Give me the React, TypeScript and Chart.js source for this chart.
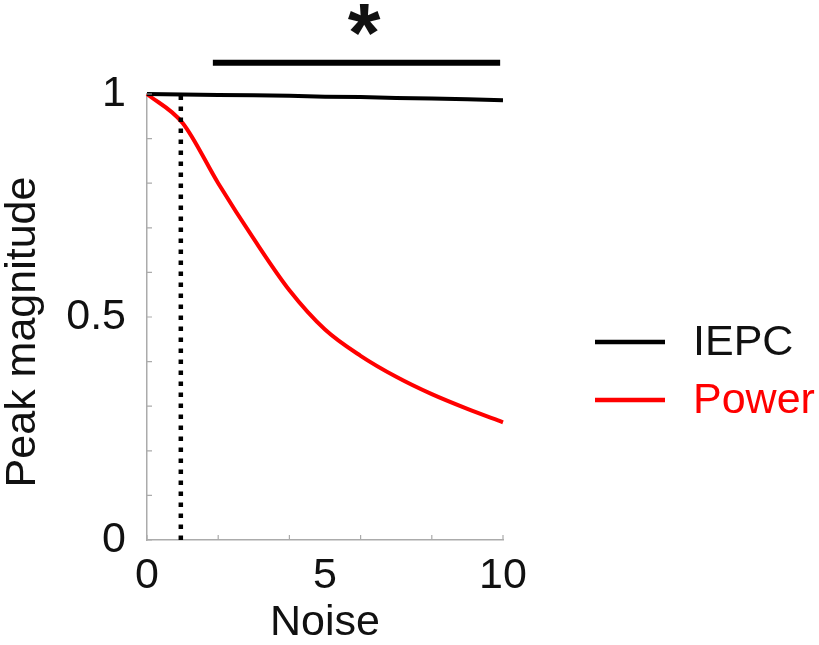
import { useEffect, useRef } from "react";
import { Chart, registerables } from "chart.js";

Chart.register(...registerables);

// ---- data ----
const noiseLevels = [0, 1, 2, 3, 4, 5, 6, 7, 8, 9, 10];
const iepcValues = [1, 0.999, 0.998, 0.997, 0.996, 0.994, 0.993, 0.991, 0.99, 0.988, 0.986];
const powerValues = [1, 0.935, 0.8, 0.675, 0.56, 0.472, 0.413, 0.366, 0.327, 0.294, 0.264];
const seriesLabels = ["IEPC", "Power"];
const seriesColors = ["#000000", "#ff0000"];
const thresholdNoise = [0.95, 0.95];
const thresholdRange = [0, 1];
const sigBarNoise = [1.85, 9.92];
const sigBarLevel = [1.07, 1.07];
const sigMarkText = "*";
const sigMarkNoise = 6.1;
const xTickMarks = [0, 2, 4, 6, 8, 10];
const xTickLabels = [0, 5, 10];
const yTickLabels = [0, 0.5, 1];
const xTitle = "Noise";
const yTitle = "Peak magnitude";

const FONT = "'Liberation Sans', Arial, Helvetica, sans-serif";
const FS = 43;
const AXIS_COLOR = "#ababab";

const near = (v: number, list: number[]) => list.some((t) => Math.abs(t - v) < 1e-6);

const decorPlugin = {
  id: "decor",
  afterDraw(chart: any) {
    const { ctx, chartArea } = chart;
    const xs = chart.scales.x;
    const ys = chart.scales.y;
    ctx.save();
    // inward tick marks
    ctx.strokeStyle = AXIS_COLOR;
    ctx.lineWidth = 1.2;
    ctx.beginPath();
    xTickMarks.forEach((v) => {
      const px = xs.getPixelForValue(v);
      ctx.moveTo(px, chartArea.bottom);
      ctx.lineTo(px, chartArea.bottom - 5);
    });
    ys.ticks.forEach((t: any) => {
      const py = ys.getPixelForValue(t.value);
      ctx.moveTo(chartArea.left, py);
      ctx.lineTo(chartArea.left + 5, py);
    });
    ctx.stroke();

    // y title
    ctx.fillStyle = "#111";
    ctx.font = `${FS}px ${FONT}`;
    ctx.textAlign = "center";
    ctx.textBaseline = "middle";
    ctx.translate(23, (chartArea.top + chartArea.bottom) / 2 + 15);
    ctx.rotate(-Math.PI / 2);
    ctx.fillText(yTitle, 0, 0);
    ctx.restore();

    // significance asterisk
    ctx.save();
    ctx.fillStyle = "#111";
    ctx.font = `bold 84px ${FONT}`;
    ctx.textAlign = "center";
    ctx.textBaseline = "alphabetic";
    ctx.fillText(sigMarkText, xs.getPixelForValue(sigMarkNoise), 62);
    ctx.restore();

    // legend
    ctx.save();
    const rows = [342, 400];
    seriesLabels.forEach((label, i) => {
      ctx.strokeStyle = seriesColors[i];
      ctx.lineWidth = 4.5;
      ctx.beginPath();
      ctx.moveTo(595, rows[i]);
      ctx.lineTo(665, rows[i]);
      ctx.stroke();
      ctx.fillStyle = i === 0 ? "#111" : seriesColors[i];
      ctx.font = `${FS}px ${FONT}`;
      ctx.textAlign = "left";
      ctx.textBaseline = "middle";
      ctx.fillText(label, 693, rows[i] + 1);
    });
    ctx.restore();
  },
};

export default function App() {
  const ref = useRef<HTMLCanvasElement | null>(null);

  useEffect(() => {
    document.body.style.margin = "0";
    const canvas = ref.current;
    if (!canvas) return;
    const chart = new Chart(canvas, {
      type: "line",
      data: {
        datasets: [
          {
            label: "threshold",
            data: thresholdNoise.map((x, i) => ({ x, y: thresholdRange[i] })),
            borderColor: "#000",
            borderWidth: 4.5,
            borderDash: [4.5, 6.5],
            borderCapStyle: "butt",
            pointRadius: 0,
            order: 0,
            clip: false as any,
          },
          {
            label: seriesLabels[0],
            data: noiseLevels.map((x, i) => ({ x, y: iepcValues[i] })),
            borderColor: seriesColors[0],
            borderWidth: 4,
            pointRadius: 0,
            tension: 0,
            order: 1,
            clip: false as any,
          },
          {
            label: seriesLabels[1],
            data: noiseLevels.map((x, i) => ({ x, y: powerValues[i] })),
            borderColor: seriesColors[1],
            borderWidth: 4,
            pointRadius: 0,
            cubicInterpolationMode: "monotone",
            order: 2,
            clip: false as any,
          },
          {
            label: "significance",
            data: sigBarNoise.map((x, i) => ({ x, y: sigBarLevel[i] })),
            borderColor: "#000",
            borderWidth: 6,
            pointRadius: 0,
            order: 3,
            clip: false as any,
          },
        ],
      },
      options: {
        responsive: false,
        animation: false,
        layout: { padding: { top: 94, right: 316, left: 0, bottom: 0 } },
        plugins: { legend: { display: false }, tooltip: { enabled: false } },
        scales: {
          x: {
            type: "linear",
            min: 0,
            max: 10,
            grid: { display: false, drawTicks: false },
            border: { display: true, color: AXIS_COLOR, width: 1.5 },
            ticks: {
              stepSize: 1,
              autoSkip: false,
              maxRotation: 0,
              padding: 10,
              color: "#111",
              font: { family: FONT, size: FS },
              callback: (v: any) => (near(Number(v), xTickLabels) ? String(v) : ""),
            },
            title: {
              display: true,
              text: xTitle,
              color: "#111",
              font: { family: FONT, size: FS, lineHeight: 1.0 },
              padding: 0,
            },
            afterFit: (s: any) => {
              s.height = 105;
            },
          },
          y: {
            type: "linear",
            min: 0,
            max: 1,
            grid: { display: false, drawTicks: false },
            border: { display: true, color: AXIS_COLOR, width: 1.5 },
            ticks: {
              stepSize: 0.1,
              autoSkip: false,
              padding: 21,
              color: "#111",
              font: { family: FONT, size: FS },
              callback: (v: any) => {
                const n = Number(v);
                return near(n, yTickLabels) ? String(Math.round(n * 10) / 10) : "";
              },
            },
            afterFit: (s: any) => {
              s.width = 147;
            },
          },
        },
      },
      plugins: [decorPlugin],
    });
    return () => chart.destroy();
  }, []);

  return (
    <div style={{ width: 819, height: 645 }}>
      <canvas ref={ref} width={819} height={645} style={{ display: "block" }} />
    </div>
  );
}
